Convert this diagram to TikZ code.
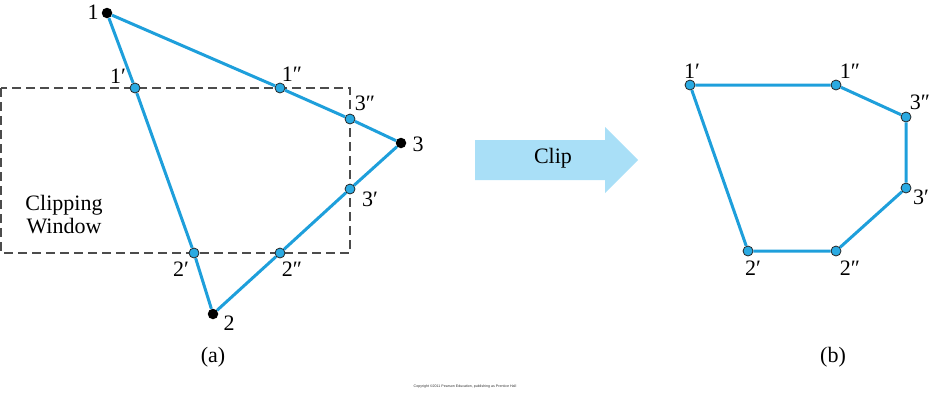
\documentclass[tikz,border=0pt]{standalone}
\usepackage{fontspec}
\setmainfont{Liberation Serif}
\newfontfamily\notefont{Liberation Sans}
\usetikzlibrary{positioning}
\definecolor{LineBlue}{HTML}{1E9FDB}
\definecolor{DotBlue}{HTML}{2AAAE2}
\definecolor{ArrowBlue}{HTML}{A9DFF7}

\begin{document}
\begin{tikzpicture}[x=1pt,y=-1pt,
    edge/.style={draw=LineBlue, line width=3pt},
    vtx/.style={circle, draw=black!85, fill=DotBlue, line width=0.8pt,
                inner sep=0pt, minimum size=10pt},
    endpt/.style={circle, fill=black, inner sep=0pt, minimum size=10.5pt},
    lbl/.style={font=\fontsize{22}{22}\selectfont, inner sep=1pt}]
  \useasboundingbox (0,0) rectangle (931,405);

  % clipping window
  \draw[black!70, line width=1.1pt, dash pattern=on 9pt off 5pt]
    (1,88) rectangle (350,253);
  \node[lbl, align=center] (win) at (64,215) {Clipping\\[1pt]Window};

  % (a) original triangle
  \node[endpt] (a1)  at (107,13) {};
  \node[endpt] (a2)  at (213,314) {};
  \node[endpt] (a3)  at (401,143) {};
  \node[vtx] (a1p)  at (135,88) {};
  \node[vtx] (a1pp) at (280,88) {};
  \node[vtx] (a3pp) at (350,119) {};
  \node[vtx] (a3p)  at (350,189) {};
  \node[vtx] (a2pp) at (280,253) {};
  \node[vtx] (a2p)  at (194,253) {};
  \draw[edge] (a1) -- (a1p) -- (a2p) -- (a2) -- (a2pp) -- (a3p) -- (a3)
              -- (a3pp) -- (a1pp) -- (a1);

  \node[lbl] at (93,12)  {1};
  \node[lbl] at (118,76) {1′};
  \node[lbl] at (292,74) {1″};
  \node[lbl] at (365,103) {3″};
  \node[lbl] at (418,144) {3};
  \node[lbl] at (370,199) {3′};
  \node[lbl] at (181,269) {2′};
  \node[lbl] at (292,269) {2″};
  \node[lbl] at (229,323) {2};
  \node[lbl] (capa) at (213,357) {(a)};

  % clip arrow
  \fill[ArrowBlue] (475,140) -- (605,140) -- (605,127) -- (638,160)
    -- (605,193) -- (605,180) -- (475,180) -- cycle;
  \node[lbl] (clip) at (553,158) {Clip};

  % (b) clipped polygon
  \node[vtx] (b1p)  at (690,85) {};
  \node[vtx] (b1pp) at (836,85) {};
  \node[vtx] (b3pp) at (906,117) {};
  \node[vtx] (b3p)  at (906,188) {};
  \node[vtx] (b2pp) at (836,251) {};
  \node[vtx] (b2p)  at (748,251) {};
  \draw[edge] (b1p) -- (b1pp) -- (b3pp) -- (b3p) -- (b2pp) -- (b2p) -- (b1p);

  \node[lbl] at (692,71)  {1′};
  \node[lbl] at (850,71)  {1″};
  \node[lbl] at (920,102) {3″};
  \node[lbl] at (921,197) {3′};
  \node[lbl] at (753,268) {2′};
  \node[lbl] at (850,268) {2″};
  \node[lbl] (capb) at (833,357) {(b)};

  \node[font=\notefont\fontsize{3.6}{4}\selectfont, text=black!80] (copy)
    at (465,387) {Copyright ©2011 Pearson Education, publishing as Prentice Hall};
\end{tikzpicture}
\end{document}
